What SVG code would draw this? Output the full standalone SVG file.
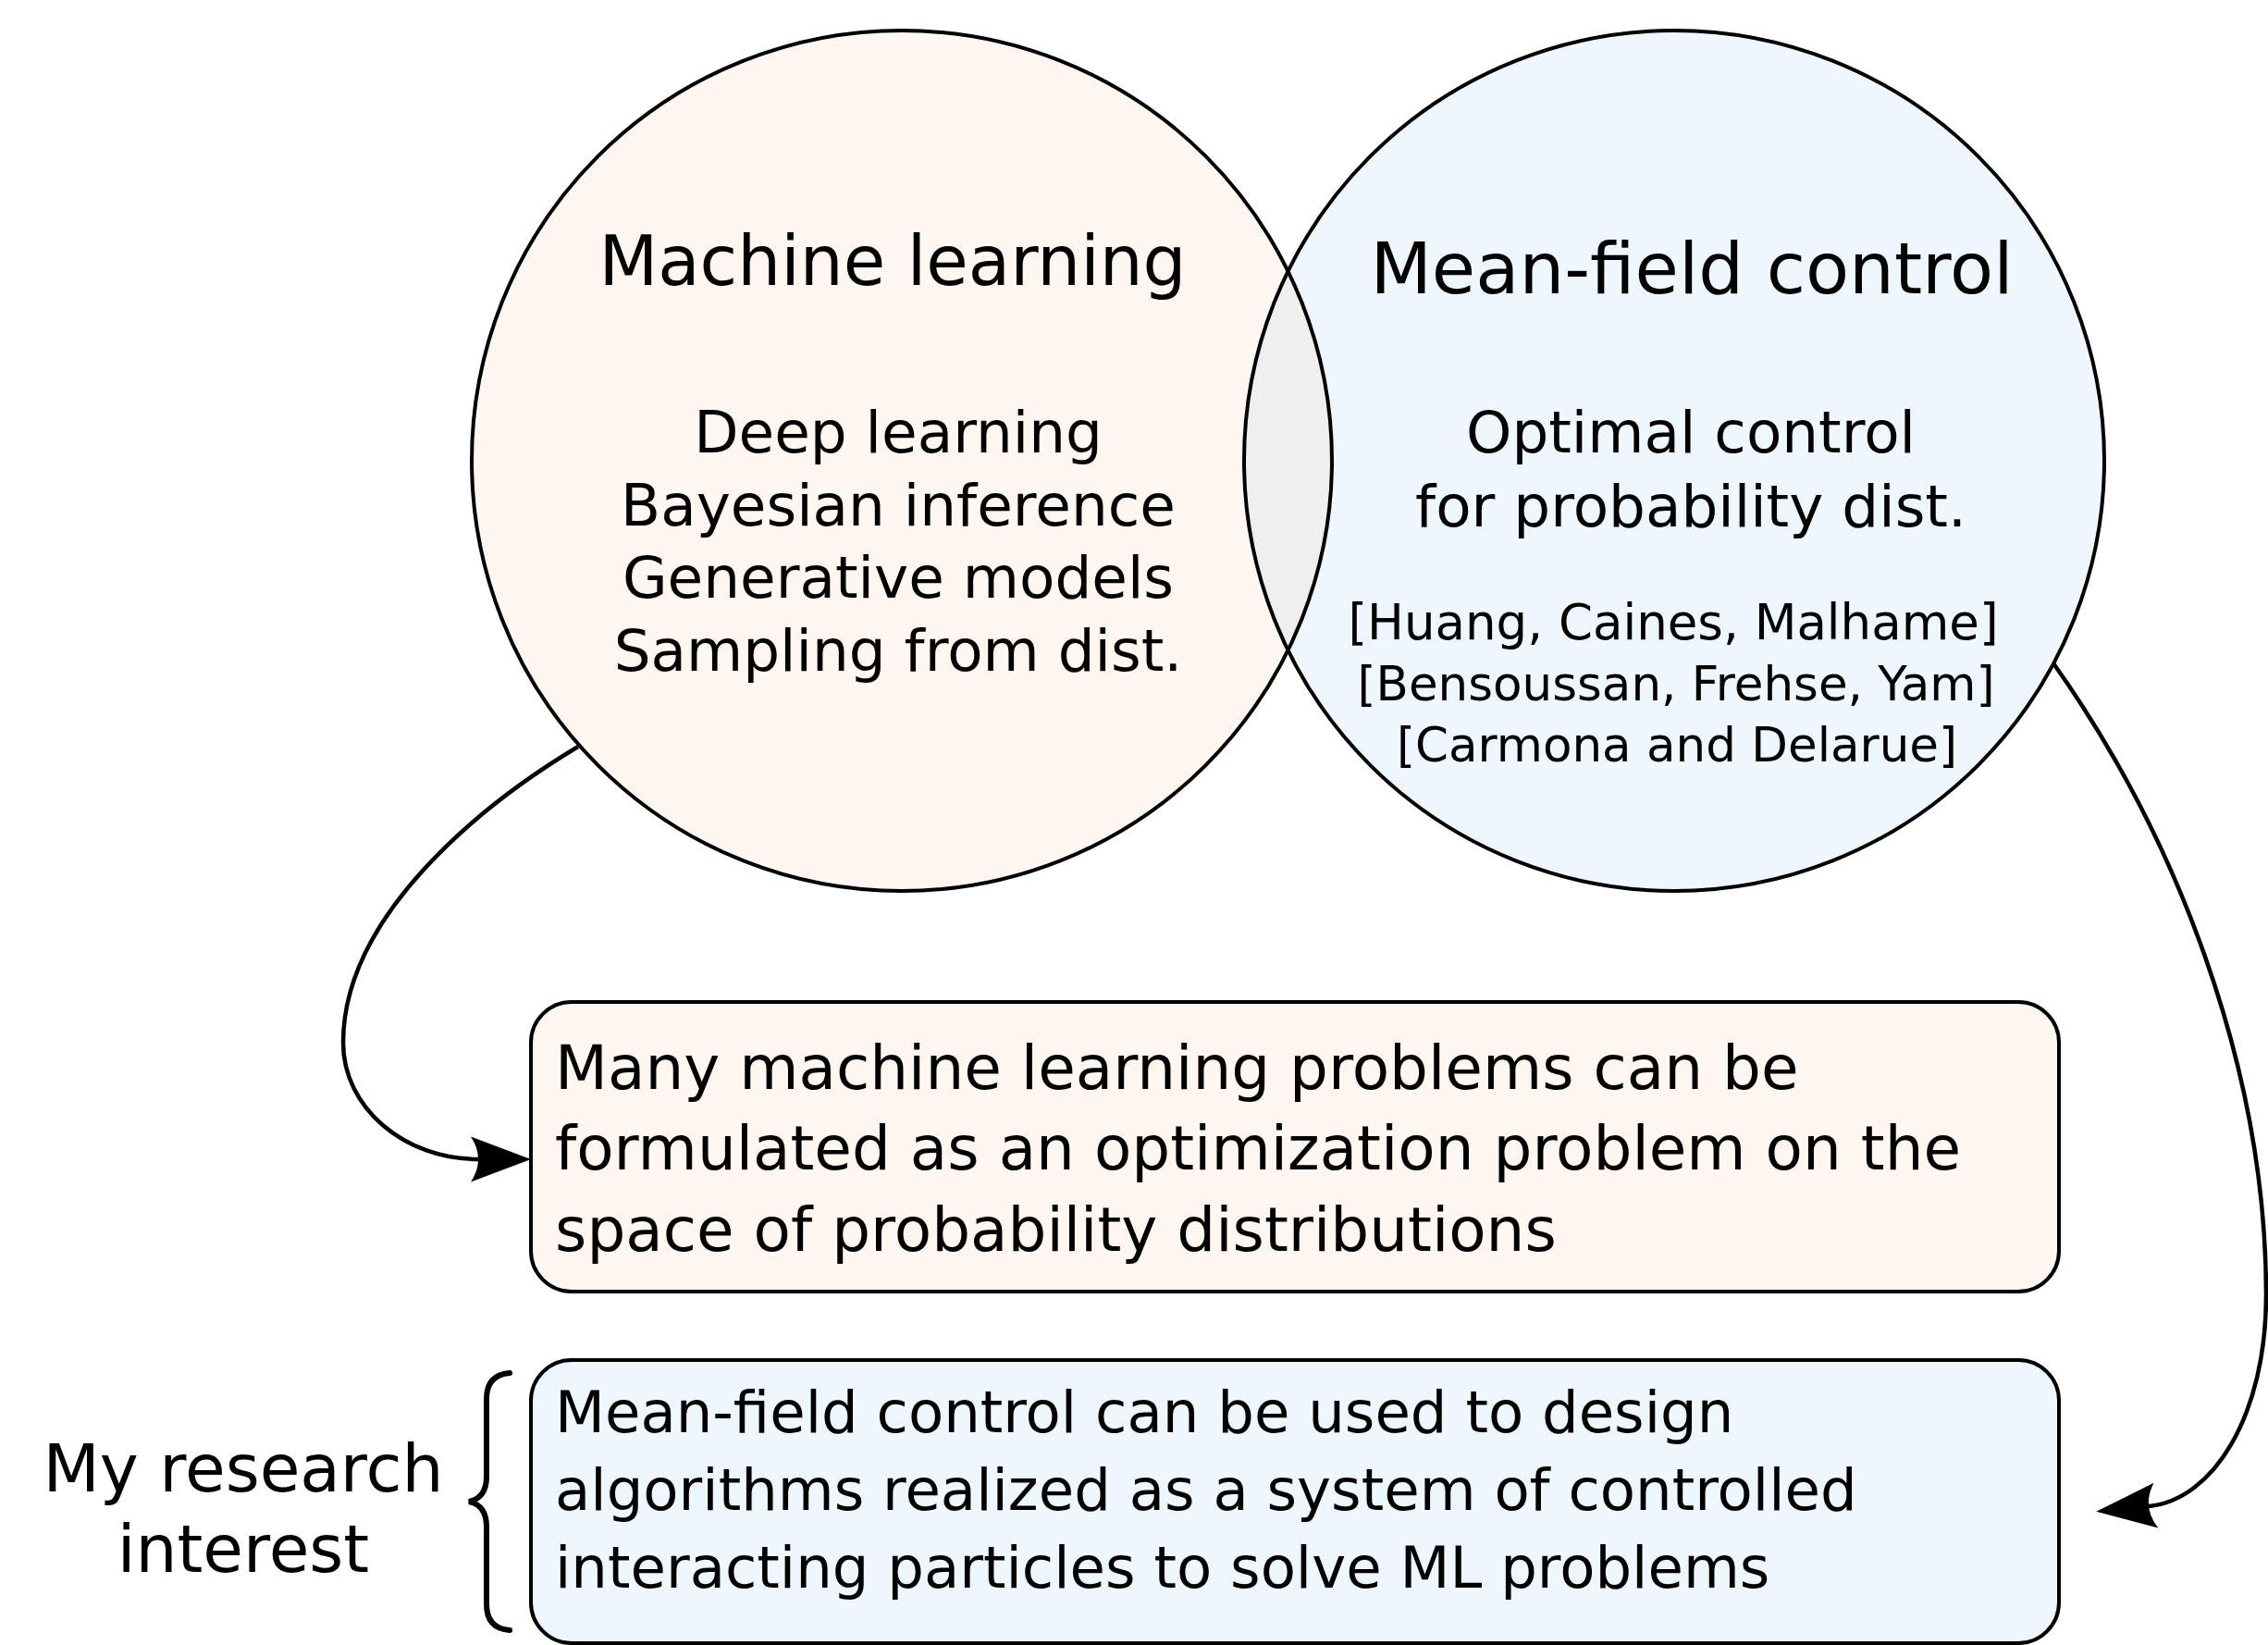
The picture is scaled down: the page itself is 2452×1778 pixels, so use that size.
<svg xmlns="http://www.w3.org/2000/svg" width="2452" height="1778" viewBox="0 0 2452 1778">
  <style>
    .txt { font-family: "DejaVu Sans", "Liberation Sans", sans-serif; fill: #000; }
    .mid { text-anchor: middle; }
    .outline { fill: none; stroke: #000; stroke-width: 4; }
    .box { stroke: #000; stroke-width: 4; }
    .warm { fill: #fef6f0; }
    .cool { fill: #eef6fe; }
    .edge { fill: none; stroke: #000; stroke-width: 4.5; }
  </style>
  <defs>
    <marker id="head" markerUnits="userSpaceOnUse" orient="auto" refX="0" refY="0" markerWidth="80" markerHeight="60" overflow="visible">
      <path d="M57,0 L-8,-24.5 Q8,0 -8,24.5 Z" fill="#000"/>
    </marker>
  </defs>

  <rect width="2452" height="1778" fill="#fff"/>

  <!-- Venn fills: two discs and their overlap -->
  <g id="venn-fills">
    <circle cx="975" cy="498" r="465" class="warm"/>
    <circle cx="1810" cy="498" r="465" class="cool"/>
    <path d="M1392.5,293.3 A465,465 0 0 1 1392.5,702.7 A465,465 0 0 1 1392.5,293.3 Z" fill="#efefef"/>
  </g>

  <!-- Machine learning set -->
  <g id="ml">
    <circle cx="975" cy="498" r="465" class="outline"/>
    <text class="txt mid" x="965" y="308" font-size="74">Machine learning</text>
    <text class="txt mid" x="971" y="489" font-size="62.8">Deep learning</text>
    <text class="txt mid" x="971" y="568" font-size="62.8">Bayesian inference</text>
    <text class="txt mid" x="971" y="646" font-size="62.8">Generative models</text>
    <text class="txt mid" x="971" y="725" font-size="62.8">Sampling from dist.</text>
  </g>

  <!-- Mean-field control set -->
  <g id="mfc">
    <circle cx="1810" cy="498" r="465" class="outline"/>
    <text class="txt mid" x="1829" y="317" font-size="77">Mean-field control</text>
    <text class="txt mid" x="1828" y="489" font-size="62.8">Optimal control</text>
    <text class="txt mid" x="1828" y="569" font-size="62.8">for probability dist.</text>
    <text class="txt mid" x="1809" y="691" font-size="53">[Huang, Caines, Malhame]</text>
    <text class="txt mid" x="1812" y="757" font-size="51.5">[Bensoussan, Frehse, Yam]</text>
    <text class="txt mid" x="1813" y="823" font-size="51.5">[Carmona and Delarue]</text>
  </g>

  <!-- Statement box: optimization on distributions -->
  <g id="box-ml">
    <rect x="574" y="1083" width="1652" height="313" rx="44" ry="44" class="box warm"/>
    <text class="txt" x="600" y="1177" font-size="66">Many machine learning problems can be</text>
    <text class="txt" x="600" y="1264" font-size="66">formulated as an optimization problem on the</text>
    <text class="txt" x="600" y="1352" font-size="66">space of probability distributions</text>
  </g>

  <!-- Statement box: interacting particle algorithms -->
  <g id="box-mfc">
    <rect x="574" y="1470" width="1652" height="306" rx="44" ry="44" class="box cool"/>
    <text class="txt" x="600" y="1548" font-size="62.5">Mean-field control can be used to design</text>
    <text class="txt" x="600" y="1632" font-size="62.5">algorithms realized as a system of controlled</text>
    <text class="txt" x="600" y="1716" font-size="62.5">interacting particles to solve ML problems</text>
  </g>

  <!-- Side label with brace -->
  <g id="research-label">
    <text class="txt mid" x="263" y="1612" font-size="71">My research</text>
    <text class="txt mid" x="263" y="1699" font-size="71">interest</text>
    <path d="M551,1484 Q526,1486 526,1512 L526,1596 Q526,1619 507,1623 Q526,1627 526,1650 L526,1734 Q526,1760 551,1762" fill="none" stroke="#000" stroke-width="6" stroke-linecap="round"/>
  </g>

  <!-- Connectors -->
  <g id="connectors">
    <path class="edge" d="M625,807 C520,870 371,990 371,1127 C371,1197 437,1253 517,1253" marker-end="url(#head)"/>
    <path class="edge" d="M2220,717 C2350,900 2450,1150 2450,1400 C2450,1530 2393,1621 2323,1628" marker-end="url(#head)"/>
  </g>
</svg>
